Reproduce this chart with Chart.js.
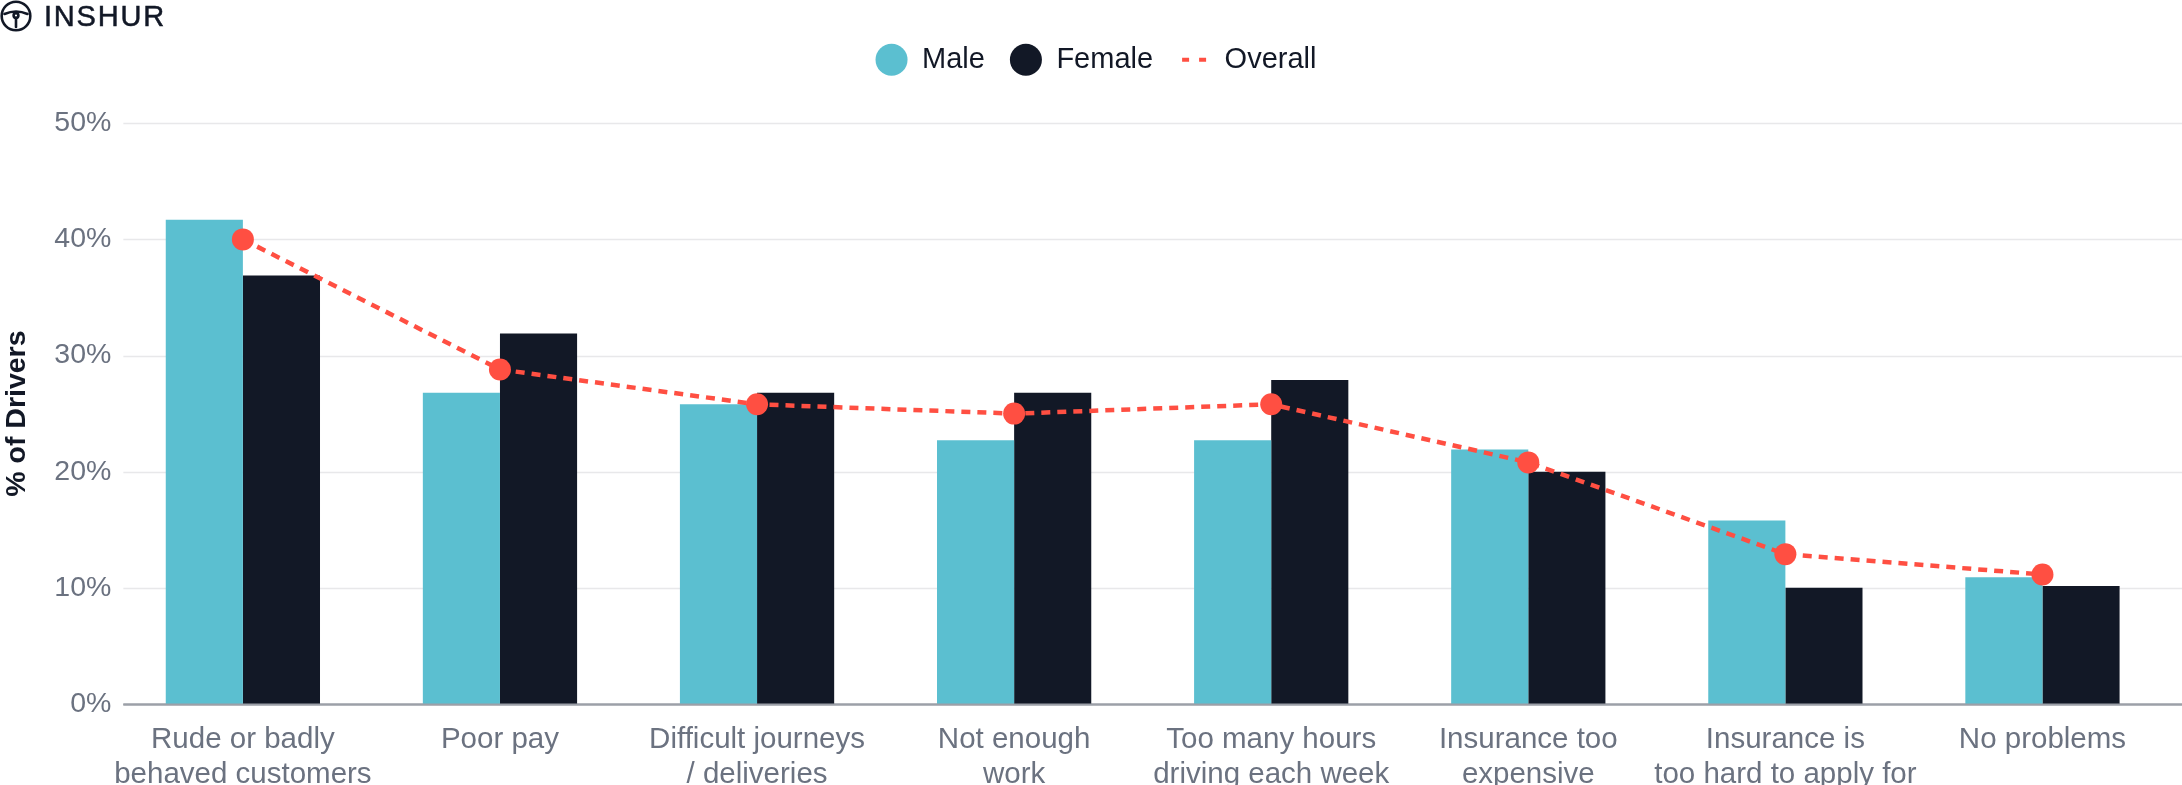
<!DOCTYPE html>
<html>
<head>
<meta charset="utf-8">
<script src="https://cdn.jsdelivr.net/npm/chart.js@4.4.1/dist/chart.umd.min.js"></script>
<style>
html,body{margin:0;padding:0;background:#ffffff;overflow:hidden;}
#wrap{position:relative;width:2182px;height:811px;}
#logo{position:absolute;left:0px;top:0px;height:32px;display:flex;align-items:center;font-family:"Liberation Sans",Arial,sans-serif;font-size:29px;letter-spacing:1.8px;color:#121826;-webkit-text-stroke:0.5px #121826;}
#logo svg{margin-right:12px;}
</style>
</head>
<body>
<div id="wrap">
<canvas id="c" width="2182" height="811"></canvas>
<div id="logo"><svg width="32" height="32" viewBox="0 0 32 32" fill="none" stroke="#121826" stroke-width="2.6" stroke-linecap="round"><circle cx="16" cy="16" r="14.3"/><path d="M4.5 14 Q16 9 27.5 14"/><circle cx="16" cy="15.5" r="2.4"/><path d="M16 18 V27"/></svg><span>INSHUR</span></div>
</div>
<script>
const categories = [
  ["Rude or badly", "behaved customers"],
  "Poor pay",
  ["Difficult journeys", "/ deliveries"],
  ["Not enough", "work"],
  ["Too many hours", "driving each week"],
  ["Insurance too", "expensive"],
  ["Insurance is", "too hard to apply for"],
  "No problems"
];
const maleValues    = [41.7, 26.8, 25.8, 22.7, 22.7, 21.9, 15.8, 10.9];
const femaleValues  = [36.9, 31.9, 26.8, 26.8, 27.9, 20.0, 10.0, 10.15];
const overallValues = [40.0, 28.8, 25.8, 25.0, 25.8, 20.8, 12.9, 11.15];
const yTickValues   = [0, 10, 20, 30, 40, 50];
const seriesNames   = ["Male", "Female", "Overall"];

const TEAL = '#5BBFD0', DARK = '#121826', RED = '#FF4F42';
const GRAY_TXT = '#6B7280', GRID = '#E8E8EA', AXIS = '#9CA0A8';
const FONT = '"Liberation Sans", Arial, Helvetica, sans-serif';

// gridlines + baseline drawn from the y scale, extended slightly past the category band
const gridPlugin = {
  id: 'fullGrid',
  afterLayout(chart) {
    if (chart.legend) { chart.legend.left += 10; chart.legend.right += 10; }
  },
  beforeDatasetsDraw(chart) {
    const {ctx, chartArea, scales: {y}} = chart;
    const x0 = chartArea.left + 9, x1 = chart.width;
    ctx.save();
    yTickValues.forEach(v => {
      const py = Math.round(y.getPixelForValue(v)) + 0.5;
      ctx.beginPath();
      ctx.lineWidth = v === 0 ? 2 : 1.5;
      ctx.strokeStyle = v === 0 ? AXIS : GRID;
      ctx.moveTo(x0, py); ctx.lineTo(x1, py);
      ctx.stroke();
    });
    ctx.restore();
  },
  afterDatasetsDraw(chart) {
    const {ctx, chartArea, scales: {y}} = chart;
    const py = Math.round(y.getPixelForValue(0)) + 0.5;
    ctx.save();
    ctx.beginPath();
    ctx.lineWidth = 2; ctx.strokeStyle = AXIS;
    ctx.moveTo(chartArea.left + 9, py); ctx.lineTo(chart.width, py);
    ctx.stroke();
    ctx.restore();
  }
};

new Chart(document.getElementById('c'), {
  data: {
    labels: categories,
    datasets: [
      { type: 'bar', label: seriesNames[0], data: maleValues, backgroundColor: TEAL, order: 2,
        categoryPercentage: 0.6, barPercentage: 1.0, borderWidth: 0 },
      { type: 'bar', label: seriesNames[1], data: femaleValues, backgroundColor: DARK, order: 2,
        categoryPercentage: 0.6, barPercentage: 1.0, borderWidth: 0 },
      { type: 'line', label: seriesNames[2], data: overallValues, order: 0,
        borderColor: RED, backgroundColor: RED, borderWidth: 4.5, borderDash: [9, 7],
        pointRadius: 11, pointHoverRadius: 11, pointBackgroundColor: RED, pointBorderWidth: 0,
        tension: 0, fill: false }
    ]
  },
  options: {
    responsive: false,
    animation: false,
    devicePixelRatio: 1,
    layout: { padding: { top: 20.25, right: 10, bottom: 0, left: 0 } },
    plugins: {
      tooltip: { enabled: false },
      title: { display: false },
      subtitle: { display: true, text: '', weight: 500, font: { size: 1, lineHeight: 1 }, padding: { top: 0, bottom: 38 } },
      legend: {
        position: 'top',
        labels: {
          usePointStyle: true,
          pointStyleWidth: 32,
          boxHeight: 22.6,
          padding: 25,
          color: DARK,
          font: { family: FONT, size: 29 },
          generateLabels(chart) {
            return chart.data.datasets.map((ds, i) => {
              const isLine = ds.type === 'line';
              return {
                text: ds.label,
                datasetIndex: i,
                fillStyle: ds.backgroundColor,
                strokeStyle: isLine ? RED : ds.backgroundColor,
                lineWidth: isLine ? 4 : 0,
                lineDash: isLine ? [7, 10] : [],
                lineDashOffset: isLine ? -4 : 0,
                pointStyle: isLine ? 'line' : 'circle',
                fontColor: DARK,
                hidden: false
              };
            });
          }
        }
      }
    },
    scales: {
      x: {
        offset: true,
        grid: { display: false, drawTicks: false },
        border: { display: false },
        ticks: { color: GRAY_TXT, padding: 19, maxRotation: 0, autoSkip: false,
                 font: { family: FONT, size: 29.5, lineHeight: 1.17 } }
      },
      y: {
        min: 0, max: 50,
        grid: { display: false, drawTicks: false },
        border: { display: false },
        afterBuildTicks(scale) { scale.ticks = yTickValues.map(v => ({ value: v })); },
        ticks: { color: GRAY_TXT, padding: 3, font: { family: FONT, size: 28.5 },
                 callback: v => v + '%' },
        title: { display: true, text: '% of Drivers', color: DARK,
                 font: { family: FONT, size: 28.5, weight: 'bold', lineHeight: 1.2 },
                 padding: { top: 0, bottom: 17.1 } }
      }
    }
  },
  plugins: [gridPlugin]
});
</script>
</body>
</html>
